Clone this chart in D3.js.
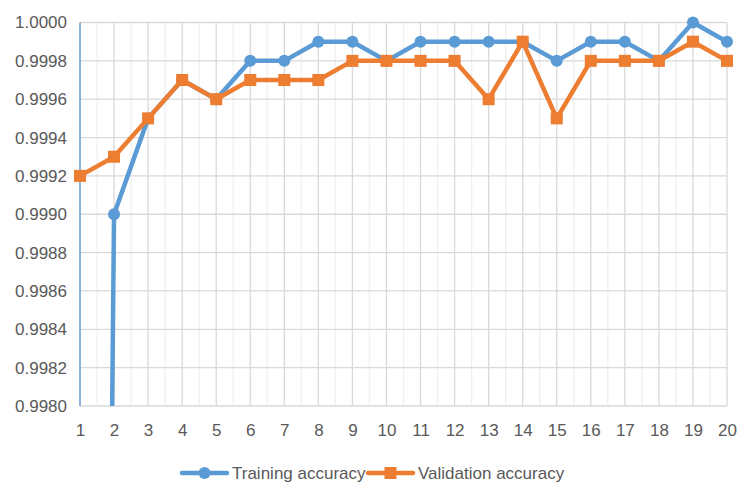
<!DOCTYPE html>
<html lang="en">
  <head>
    <meta charset="UTF-8" />
    <title>Accuracy</title>
    <style>
      body { margin: 0; background: #fff; }
      text { font-family: "Liberation Sans", Arial, sans-serif; fill: #595959; }
    </style>
  </head>
  <body>
    <script src="https://d3js.org/d3.v7.min.js"></script>
    <script>
      const epochs = d3.range(1, 21);
      const training = [0.981, 0.999, 0.9995, 0.9997, 0.9996, 0.9998, 0.9998, 0.9999, 0.9999, 0.9998,
                        0.9999, 0.9999, 0.9999, 0.9999, 0.9998, 0.9999, 0.9999, 0.9998, 1.0, 0.9999];
      const validation = [0.9992, 0.9993, 0.9995, 0.9997, 0.9996, 0.9997, 0.9997, 0.9997, 0.9998, 0.9998,
                          0.9998, 0.9998, 0.9996, 0.9999, 0.9995, 0.9998, 0.9998, 0.9998, 0.9999, 0.9998];
      const yTicks = [0.998, 0.9982, 0.9984, 0.9986, 0.9988, 0.999, 0.9992, 0.9994, 0.9996, 0.9998, 1.0];
      const seriesNames = ["Training accuracy", "Validation accuracy"];

      const blue = "#5b9bd5", orange = "#ed7d31";
      const width = 750, height = 504;
      const plotLeft = 80, plotRight = 727, plotTop = 22.5, plotBottom = 406;
      const fontSize = 17;

      const x = d3.scaleLinear().domain([1, 20]).range([plotLeft, plotRight]);
      const y = d3.scaleLinear().domain([0.998, 1.0]).range([plotBottom, plotTop]);

      const svg = d3.select("body").append("svg")
        .attr("width", width).attr("height", height);

      svg.append("defs").append("clipPath").attr("id", "plot")
        .append("rect")
        .attr("x", plotLeft - 10).attr("y", 0)
        .attr("width", plotRight - plotLeft + 20).attr("height", plotBottom);

      // gridlines
      const grid = svg.append("g");
      grid.selectAll(".minor").data(d3.range(1.5, 20, 1)).join("line")
        .attr("class", "minor")
        .attr("x1", d => x(d)).attr("x2", d => x(d))
        .attr("y1", plotTop).attr("y2", plotBottom)
        .attr("stroke", "#f0f0f0").attr("stroke-width", 1.3);
      grid.selectAll(".major").data(epochs).join("line")
        .attr("class", "major")
        .attr("x1", d => x(d)).attr("x2", d => x(d))
        .attr("y1", plotTop).attr("y2", plotBottom)
        .attr("stroke", "#d9d9d9").attr("stroke-width", 1.3);
      grid.selectAll(".hline").data(yTicks).join("line")
        .attr("class", "hline")
        .attr("x1", plotLeft).attr("x2", plotRight)
        .attr("y1", d => y(d)).attr("y2", d => y(d))
        .attr("stroke", "#d9d9d9").attr("stroke-width", 1.3);

      // left axis line
      svg.append("line")
        .attr("x1", plotLeft).attr("x2", plotLeft)
        .attr("y1", plotTop).attr("y2", plotBottom)
        .attr("stroke", blue).attr("stroke-width", 1.3);

      // axes labels
      const yAxis = svg.append("g")
        .attr("transform", `translate(${plotLeft},0)`)
        .call(d3.axisLeft(y).tickValues(yTicks).tickFormat(d3.format(".4f")).tickSize(0).tickPadding(13));
      yAxis.select(".domain").remove();
      yAxis.selectAll("text").attr("font-size", fontSize).style("fill", "#595959")
        .attr("font-family", "Liberation Sans, Arial, sans-serif");

      const xAxis = svg.append("g")
        .attr("transform", `translate(0,${plotBottom})`)
        .call(d3.axisBottom(x).tickValues(epochs).tickFormat(d3.format("d")).tickSize(0).tickPadding(18));
      xAxis.select(".domain").remove();
      xAxis.selectAll("text").attr("font-size", fontSize).style("fill", "#595959")
        .attr("font-family", "Liberation Sans, Arial, sans-serif");

      const line = d3.line().x((d, i) => x(epochs[i])).y(d => y(d));

      // training
      svg.append("path").datum(training)
        .attr("clip-path", "url(#plot)")
        .attr("d", line).attr("fill", "none")
        .attr("stroke", blue).attr("stroke-width", 4.5).attr("stroke-linejoin", "round");
      svg.append("g").selectAll("circle")
        .data(training.map((v, i) => [epochs[i], v]).filter(d => d[1] >= 0.998))
        .join("circle")
        .attr("cx", d => x(d[0])).attr("cy", d => y(d[1])).attr("r", 6)
        .attr("fill", blue);

      // validation
      svg.append("path").datum(validation)
        .attr("d", line).attr("fill", "none")
        .attr("stroke", orange).attr("stroke-width", 4.5).attr("stroke-linejoin", "round");
      svg.append("g").selectAll("rect")
        .data(validation.map((v, i) => [epochs[i], v]))
        .join("rect")
        .attr("x", d => x(d[0]) - 6).attr("y", d => y(d[1]) - 6)
        .attr("width", 12).attr("height", 12)
        .attr("fill", orange);

      // legend
      const legend = svg.append("g").attr("transform", "translate(0,473)");
      const items = [
        { name: seriesNames[0], color: blue, x0: 182, shape: "circle" },
        { name: seriesNames[1], color: orange, x0: 368, shape: "rect" },
      ];
      items.forEach(it => {
        legend.append("line")
          .attr("x1", it.x0).attr("x2", it.x0 + 45)
          .attr("stroke", it.color).attr("stroke-width", 4.5).attr("stroke-linecap", "round");
        if (it.shape === "circle") {
          legend.append("circle").attr("cx", it.x0 + 22.5).attr("r", 6).attr("fill", it.color);
        } else {
          legend.append("rect").attr("x", it.x0 + 16.5).attr("y", -6)
            .attr("width", 12).attr("height", 12).attr("fill", it.color);
        }
        legend.append("text")
          .attr("x", it.x0 + 50).attr("y", 0).attr("dy", "0.35em")
          .attr("font-size", fontSize).text(it.name);
      });
    </script>
  </body>
</html>
